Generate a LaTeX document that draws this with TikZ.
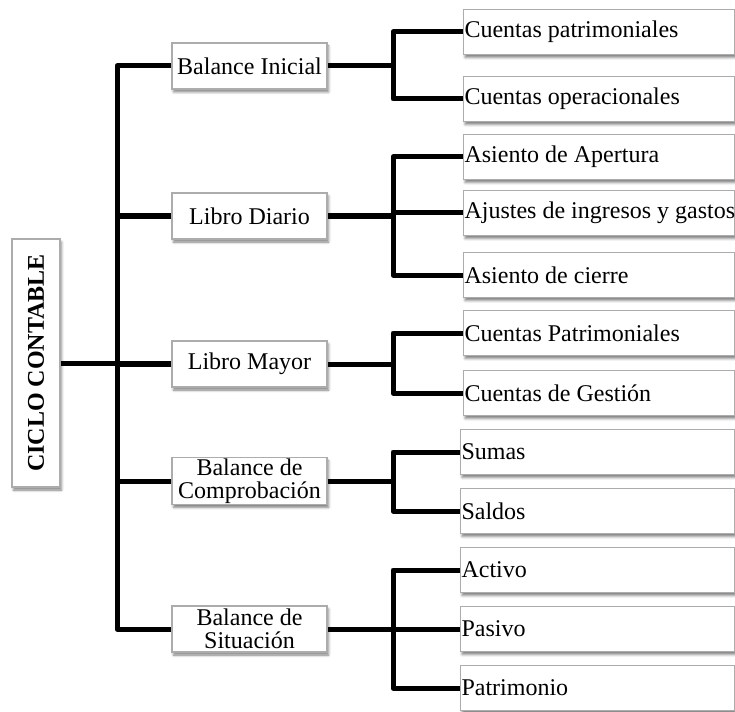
\documentclass[tikz,border=0pt]{standalone}
\usepackage{fontspec}
\setmainfont{Liberation Serif}
\usetikzlibrary{shadows.blur}

% one-line leaf label, flush left in a fixed-width box
\newcommand{\leaflabel}[2]{\makebox[#1][l]{#2}}

\begin{document}
\begin{tikzpicture}[x=1pt,y=-1pt,
  box/.style={draw=gray!65, line width=1.1pt, fill=white,
    blur shadow={shadow xshift=1.5pt, shadow yshift=-3pt,
                 shadow blur radius=2.5pt, shadow opacity=50},
    font=\fontsize{24}{23}\selectfont},
  mid/.style={box, minimum width=155pt, minimum height=46pt,
    inner sep=1pt, align=center},
  leaf/.style={box, anchor=west, minimum height=45pt, inner xsep=1pt,
    inner ysep=0pt},
  conn/.style={line width=5pt, line join=round, line cap=butt}]

\clip (0,0) rectangle (735,711);

% main trunk and second-level junction columns
\coordinate (bus) at (117,0);
\coordinate (ja) at (393,0);

% root
\node[box, rotate=90, minimum width=248pt, minimum height=48pt,
      font=\fontsize{24}{24}\selectfont\bfseries, inner sep=0pt]
      (root) at (36,363) {CICLO CONTABLE};

% second level
\node[mid] (bi) at (249.5,66)  {Balance Inicial};
\node[mid] (ld) at (249.5,216) {Libro Diario};
\node[mid] (lm) at (249.5,364) {Libro Mayor};
\node[mid] (bc) at (249.5,481) {Balance de\\Comprobación};
\node[mid] (bs) at (249.5,629) {Balance de\\Situación};

% leaves
\node[leaf] (c11) at (463,32)  {\leaflabel{269pt}{Cuentas patrimoniales}};
\node[leaf] (c12) at (463,99)  {\leaflabel{269pt}{Cuentas operacionales}};
\node[leaf] (c21) at (463,157) {\leaflabel{269pt}{Asiento de Apertura}};
\node[leaf] (c22) at (463,213) {\leaflabel{269pt}{Ajustes de ingresos y gastos}};
\node[leaf] (c23) at (463,275) {\leaflabel{269pt}{Asiento de cierre}};
\node[leaf] (c31) at (463,333) {\leaflabel{269pt}{Cuentas Patrimoniales}};
\node[leaf] (c32) at (463,393) {\leaflabel{269pt}{Cuentas de Gestión}};
\node[leaf] (c41) at (460,452) {\leaflabel{272pt}{Sumas}};
\node[leaf] (c42) at (460,511) {\leaflabel{272pt}{Saldos}};
\node[leaf] (c51) at (460,570) {\leaflabel{272pt}{Activo}};
\node[leaf] (c52) at (460,629) {\leaflabel{272pt}{Pasivo}};
\node[leaf] (c53) at (460,688) {\leaflabel{272pt}{Patrimonio}};

% trunk
\draw[conn] (root.south) -- (root.south -| lm.west);
\draw[conn] (bi.west) -- (bi.west -| bus) -- (bs.west -| bus) -- (bs.west);
\draw[conn] (ld.west) -- (ld.west -| bus);
\draw[conn] (lm.west) -- (lm.west -| bus);
\draw[conn] (bc.west) -- (bc.west -| bus);

% branches
\draw[conn] (bi.east) -- (bi.east -| ja);
\draw[conn] (c11.west) -- (c11.west -| ja) -- (c12.west -| ja) -- (c12.west);
\draw[conn] (ld.east) -- (ld.east -| ja);
\draw[conn] (c21.west) -- (c21.west -| ja) -- (c23.west -| ja) -- (c23.west);
\draw[conn] (c22.west) -- (c22.west -| ja);
\draw[conn] (lm.east) -- (lm.east -| ja);
\draw[conn] (c31.west) -- (c31.west -| ja) -- (c32.west -| ja) -- (c32.west);
\draw[conn] (bc.east) -- (bc.east -| ja);
\draw[conn] (c41.west) -- (c41.west -| ja) -- (c42.west -| ja) -- (c42.west);
\draw[conn] (bs.east) -- (bs.east -| ja);
\draw[conn] (c51.west) -- (c51.west -| ja) -- (c53.west -| ja) -- (c53.west);
\draw[conn] (c52.west) -- (c52.west -| ja);
\end{tikzpicture}
\end{document}
